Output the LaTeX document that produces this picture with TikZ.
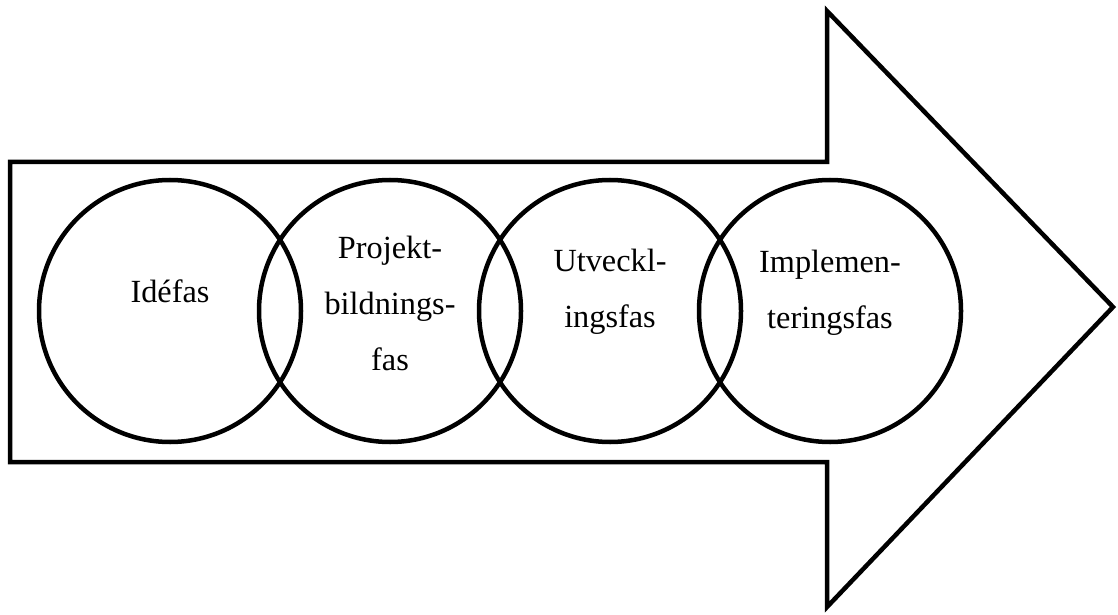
\documentclass[tikz,border=0pt]{standalone}
\usepackage{fontspec}
\setmainfont{Liberation Serif}
\usetikzlibrary{calc}
\tikzset{
	fas/.style={draw,circle,line width=4.5pt,minimum size=262pt,inner sep=0pt},
	fastext/.style={align=center,font=\fontsize{32.3}{56}\selectfont,inner sep=0pt,anchor=base}
}
\begin{document}
\begin{tikzpicture}[x=1pt,y=1pt]
			\useasboundingbox (0,0) rectangle (1118,614);
			% pilen
			\draw[line width=4.5pt] (10,152) -- (10,452) -- (827,452) -- (827,603) -- (1113,307) -- (827,7) -- (827,152) -- cycle;
			% faserna
			\node[fas] (ide) at (170,303) {};
			\node[fas] (proj) at (390,303) {};
			\node[fas] (utv) at (610,303) {};
			\node[fas] (impl) at (830,303) {};
			\node[fastext] at ($(ide)+(0,9)$) {Idéfas};
			\node[fastext] at ($(proj)+(0,-59)$) {Projekt-\\bildnings-\\fas};
			\node[fastext] at ($(utv)+(0,-16)$) {Utveckl-\\ingsfas};
			\node[fastext] at ($(impl)+(0,-17)$) {Implemen-\\teringsfas};
		\end{tikzpicture}
\end{document}
